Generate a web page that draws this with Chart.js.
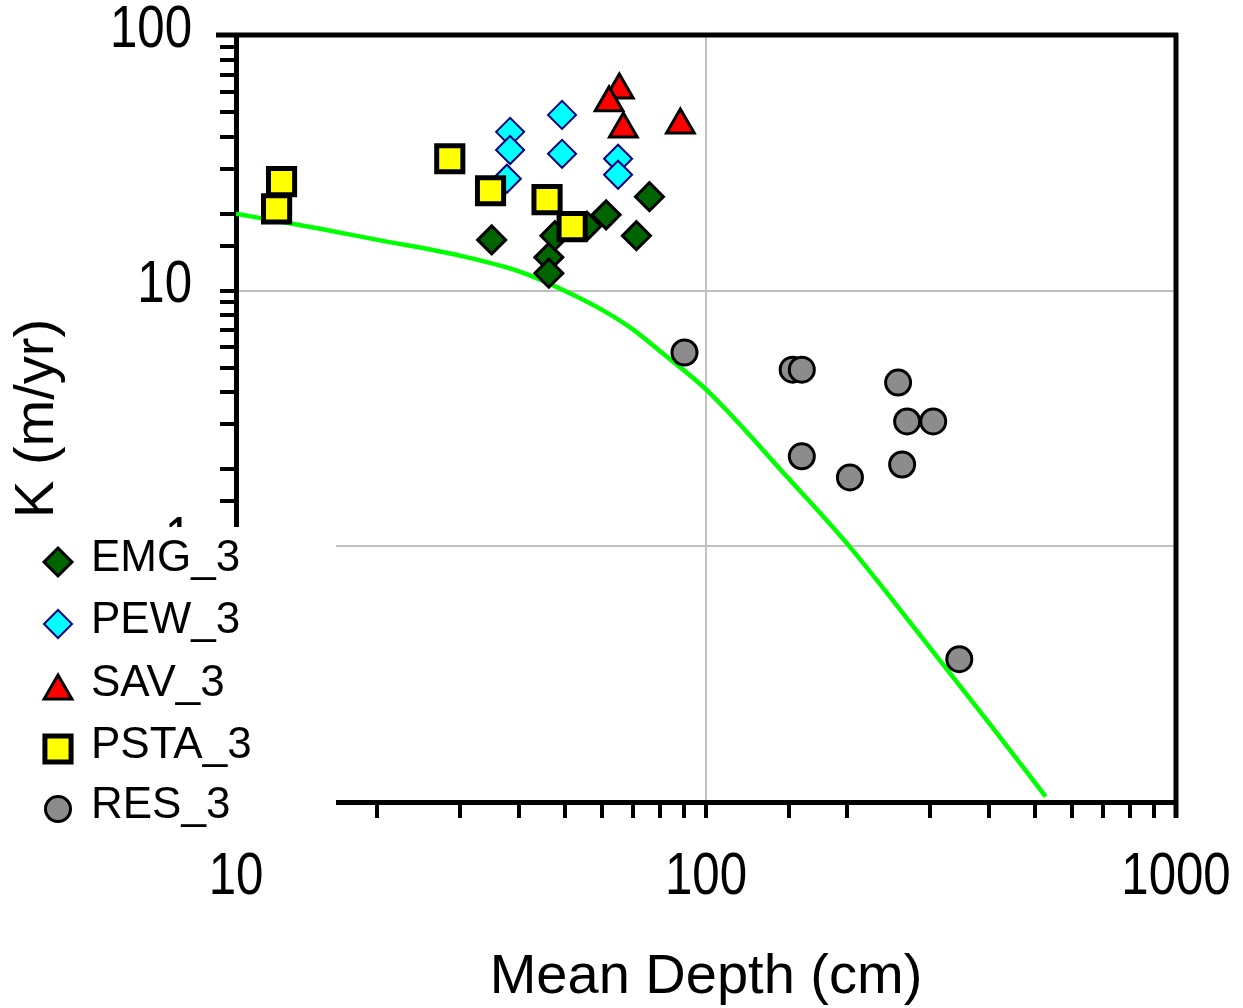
<!DOCTYPE html>
<html>
<head>
<meta charset="utf-8">
<script src="https://cdn.jsdelivr.net/npm/chart.js@4.4.1/dist/chart.umd.min.js"></script>
<style>
  html, body { margin: 0; padding: 0; background: #fff; }
  #wrap { width: 1243px; height: 1008px; }
</style>
</head>
<body>
<div id="wrap"><canvas id="chart" width="1243" height="1008"></canvas></div>
<script>
// K (m/yr) against mean depth (cm), log-log, five habitat groups plus fitted curve
var emgDepth = [35.0, 61.3, 75.8, 71.1, 46.3, 46.3, 47.7, 55.8];
var emgK     = [15.8, 19.8, 23.3, 16.4, 13.5, 11.7, 16.4, 17.9];

var pewDepth = [38.3, 38.3, 37.7, 49.4, 49.4, 65.0, 65.0];
var pewK     = [41.8, 35.5, 27.4, 48.7, 34.3, 32.8, 28.4];

var savDepth = [65.4, 62.2, 66.7, 88.2];
var savK     = [61.0, 54.3, 42.9, 44.5];

var pstaDepth = [12.5, 12.2, 28.5, 34.8, 45.9, 51.9];
var pstaK     = [26.7, 20.9, 32.8, 24.6, 22.7, 17.8];

var resDepth = [90.0, 152.9, 159.9, 256.3, 267.9, 304.4, 159.9, 202.4, 261.4, 345.9];
var resK     = [5.73, 4.91, 4.91, 4.37, 3.08, 3.08, 2.25, 1.86, 2.09, 0.362];

var curveDepth = [10, 15, 20, 30, 40, 50, 60, 70, 80, 100, 150, 200, 300, 400, 528];
var curveK     = [20.0, 17.5, 15.8, 13.7, 11.9, 10.0, 8.43, 7.04, 5.78, 4.11, 1.84, 1.02, 0.40, 0.204, 0.105];

// labelled ticks (the rest of the log ticks are unlabelled)
var xTickValues = [10, 100, 1000];
var xTickLabels = ['10', '100', '1000'];
var yTickValues = [0.1, 1, 10, 100];
var yTickLabels = ['0.1', '1', '10', '100'];

var legendOrder = ['EMG_3', 'PEW_3', 'SAV_3', 'PSTA_3', 'RES_3'];

var REGULAR = '"Liberation Sans", Arial, sans-serif';

function pts(xs, ys) {
  return xs.map(function(x, i) { return { x: x, y: ys[i] }; });
}
function isDecade(v) {
  var l = Math.log10(v);
  return Math.abs(l - Math.round(l)) < 1e-6;
}
function gridColor(ctx) {
  return ctx.tick && isDecade(ctx.tick.value) ? '#c0c0c0' : 'rgba(0,0,0,0)';
}
function gridWidth(ctx) {
  return ctx.tick && isDecade(ctx.tick.value) ? 2 : 0;
}
// the scales should not reserve extra room for overhanging labels
function noPad(s) {
  s.paddingLeft = 0; s.paddingRight = 0; s.paddingTop = 0; s.paddingBottom = 0;
}

// narrow tick labels, frame lines on top/right, legend box over the lower left
var framePlugin = {
  id: 'frameAndLegend',
  afterDraw: function(chart) {
    var ctx = chart.ctx;
    var a = chart.chartArea;
    var xs = chart.scales.x, ys = chart.scales.y;
    ctx.save();

    // tick labels, squeezed horizontally like a narrow face
    ctx.fillStyle = '#000';
    ctx.font = '60px ' + REGULAR;
    ctx.textBaseline = 'middle';
    xTickValues.forEach(function(v, i) {
      ctx.save();
      ctx.translate(xs.getPixelForValue(v), 877);
      ctx.scale(0.82, 1);
      ctx.textAlign = 'center';
      ctx.fillText(xTickLabels[i], 0, 0);
      ctx.restore();
    });
    yTickValues.forEach(function(v, i) {
      ctx.save();
      ctx.translate(192, ys.getPixelForValue(v) - 5);
      ctx.scale(0.82, 1);
      ctx.textAlign = 'right';
      ctx.fillText(yTickLabels[i], 0, 0);
      ctx.restore();
    });

    ctx.strokeStyle = '#000';
    ctx.lineWidth = 5;
    ctx.beginPath();
    ctx.moveTo(a.left - 20, a.top);
    ctx.lineTo(a.right + 2, a.top);
    ctx.moveTo(a.right, a.top - 2);
    ctx.lineTo(a.right, a.bottom + 16);
    ctx.stroke();

    // white legend panel
    ctx.fillStyle = '#fff';
    ctx.fillRect(0, 527, 336, 305);

    var rowY = [559, 621, 684, 746, 806];
    legendOrder.forEach(function(name, i) {
      var ds = chart.data.datasets.filter(function(d) { return d.label === name; })[0];
      if (!ds) return;
      var my = rowY[i] + 3 + (ds.pointStyle === 'triangle' ? 4 : 0);
      ctx.fillStyle = ds.backgroundColor;
      ctx.strokeStyle = ds.borderColor;
      ctx.lineWidth = ds.borderWidth;
      Chart.helpers.drawPoint(ctx, {
        pointStyle: ds.pointStyle,
        rotation: 0,
        radius: ds.pointRadius,
        borderWidth: ds.borderWidth
      }, 58, my);
      ctx.fillStyle = '#000';
      ctx.font = '44px ' + REGULAR;
      ctx.textAlign = 'left';
      ctx.textBaseline = 'middle';
      ctx.fillText(name, 91, rowY[i]);
    });
    ctx.restore();
  }
};

new Chart(document.getElementById('chart').getContext('2d'), {
  type: 'scatter',
  plugins: [framePlugin],
  data: {
    datasets: [
      {
        label: 'EMG_3', data: pts(emgDepth, emgK), order: 4,
        pointStyle: 'rectRot', pointRadius: 14,
        backgroundColor: '#006400', borderColor: '#000', borderWidth: 3
      },
      {
        label: 'PEW_3', data: pts(pewDepth, pewK), order: 3,
        pointStyle: 'rectRot', pointRadius: 14,
        backgroundColor: '#00ffff', borderColor: '#000080', borderWidth: 2
      },
      {
        label: 'SAV_3', data: pts(savDepth, savK), order: 2,
        pointStyle: 'triangle', pointRadius: 16,
        backgroundColor: '#ff0000', borderColor: '#000', borderWidth: 3
      },
      {
        label: 'PSTA_3', data: pts(pstaDepth, pstaK), order: 1,
        pointStyle: 'rect', pointRadius: 18.5,
        backgroundColor: '#ffff00', borderColor: '#000', borderWidth: 5
      },
      {
        label: 'RES_3', data: pts(resDepth, resK), order: 5,
        pointStyle: 'circle', pointRadius: 12.5,
        backgroundColor: '#8c8c8c', borderColor: '#000', borderWidth: 3
      },
      {
        label: 'fit', data: pts(curveDepth, curveK), order: 10,
        showLine: true, pointRadius: 0, fill: false,
        borderColor: '#00ff00', borderWidth: 4.5,
        cubicInterpolationMode: 'monotone'
      }
    ]
  },
  options: {
    responsive: false,
    devicePixelRatio: 1,
    animation: false,
    layout: { padding: { top: 35, right: 67, left: 0, bottom: 0 } },
    plugins: {
      legend: { display: false },
      tooltip: { enabled: false }
    },
    scales: {
      x: {
        type: 'logarithmic',
        position: 'bottom',
        min: 10,
        max: 1000,
        border: { display: true, color: '#000', width: 5 },
        grid: {
          color: gridColor, lineWidth: gridWidth,
          tickColor: '#000', tickWidth: 4, tickLength: 16
        },
        ticks: { display: false, autoSkip: false },
        title: {
          display: true, text: 'Mean Depth (cm)', color: '#000',
          font: { family: REGULAR, size: 56, lineHeight: 1.1 },
          padding: { top: 0, bottom: 0 }
        },
        afterFit: function(s) { s.height = 206; noPad(s); }
      },
      y: {
        type: 'logarithmic',
        position: 'left',
        min: 0.1,
        max: 100,
        border: { display: true, color: '#000', width: 5 },
        grid: {
          color: gridColor, lineWidth: gridWidth,
          tickColor: '#000', tickWidth: 4, tickLength: 16
        },
        ticks: { display: false, autoSkip: false },
        title: {
          display: true, text: 'K (m/yr)', color: '#000',
          font: { family: REGULAR, size: 56 },
          padding: { top: 4, bottom: 0 }
        },
        afterFit: function(s) { s.width = 236; noPad(s); }
      }
    }
  }
});
</script>
</body>
</html>
